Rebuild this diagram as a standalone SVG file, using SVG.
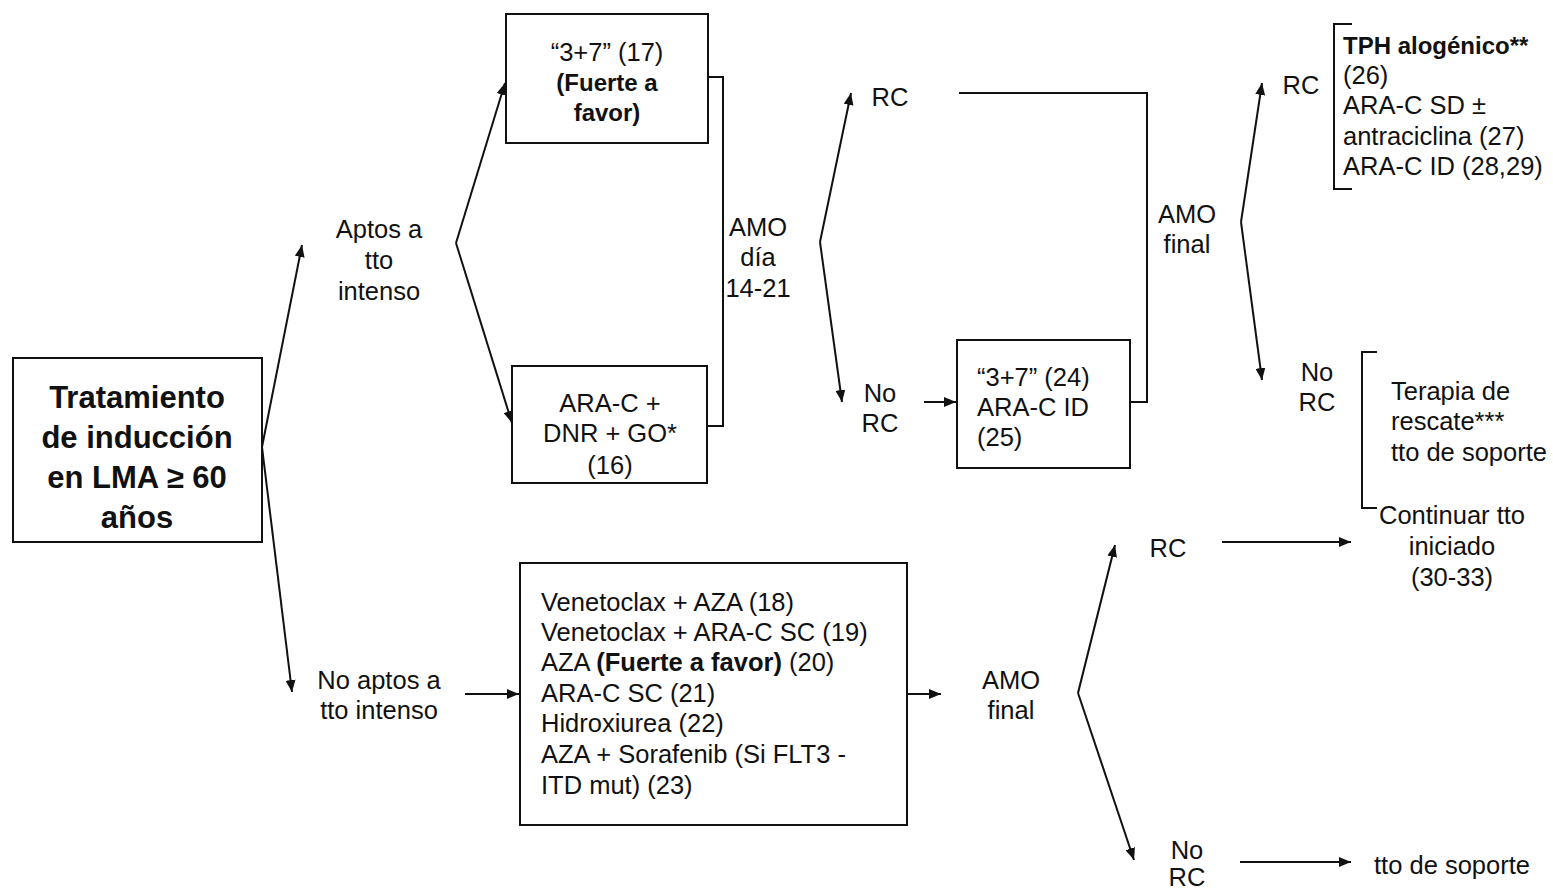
<svg xmlns="http://www.w3.org/2000/svg" width="1553" height="890" viewBox="0 0 1553 890">
<style>
text{font-family:"Liberation Sans",Arial,sans-serif;font-size:25.5px;fill:#111}
.c{text-anchor:middle}
.b{font-weight:bold;font-size:24px}
.bb{font-weight:bold;font-size:25.5px}
.t{font-weight:bold;font-size:31px;text-anchor:middle}
.box{fill:#fff;stroke:#111;stroke-width:2}
.ln{fill:none;stroke:#111;stroke-width:2}
.ar{fill:none;stroke:#111;stroke-width:2;marker-end:url(#ah)}
</style>
<defs>
<marker id="ah" markerUnits="userSpaceOnUse" markerWidth="12" markerHeight="10" refX="12" refY="5" orient="auto"><path d="M0,0 L12,5 L0,10 z" fill="#111"/></marker>
</defs>
<rect width="1553" height="890" fill="#fff"/>
<g id="connectors">
<path class="ar" d="M262,447 L302,245"/>
<path class="ar" d="M262,447 L292,692"/>
<path class="ar" d="M456,243 L505,83"/>
<path class="ar" d="M456,243 L512,423"/>
<path class="ar" d="M820,242 L851,93"/>
<path class="ar" d="M820,242 L842,402"/>
<path class="ar" d="M924,402 L956,402"/>
<path class="ar" d="M1241,222 L1262,83"/>
<path class="ar" d="M1241,222 L1262,380"/>
<path class="ar" d="M465,694 L519,694"/>
<path class="ar" d="M907,694 L941,694"/>
<path class="ar" d="M1078,693 L1115,545"/>
<path class="ar" d="M1078,693 L1134,860"/>
<path class="ar" d="M1222,542 L1351,542"/>
<path class="ar" d="M1240,862 L1351,862"/>
<path class="ln" d="M708,77 H723 V426 H707"/>
<path class="ln" d="M959,93 H1147 V402 H1130"/>
<path class="ln" d="M1352,24 H1334 V189 H1352"/>
<path class="ln" d="M1377,352 H1362 V508 H1377"/>
</g>
<g id="n-main">
<rect class="box" x="13" y="358" width="249" height="184"/>
<text class="t" x="137" y="408">Tratamiento</text>
<text class="t" x="137" y="448">de inducción</text>
<text class="t" x="137" y="488">en LMA ≥ 60</text>
<text class="t" x="137" y="528">años</text>
</g>
<g id="n-aptos">
<text class="c" x="379" y="238">Aptos a</text>
<text class="c" x="379" y="269">tto</text>
<text class="c" x="379" y="300">intenso</text>
</g>
<g id="n-37">
<rect class="box" x="506" y="14" width="202" height="129"/>
<text class="c" x="607" y="61">“3+7” (17)</text>
<text class="c b" x="607" y="91">(Fuerte a</text>
<text class="c b" x="607" y="121">favor)</text>
</g>
<g id="n-arac">
<rect class="box" x="512" y="366" width="195" height="117"/>
<text class="c" x="610" y="412">ARA-C +</text>
<text class="c" x="610" y="442">DNR + GO*</text>
<text class="c" x="610" y="474">(16)</text>
</g>
<g id="n-amo1">
<text class="c" x="758" y="236">AMO</text>
<text class="c" x="758" y="266">día</text>
<text class="c" x="758" y="297">14-21</text>
</g>
<g id="n-rc1"><text class="c" x="890" y="106">RC</text></g>
<g id="n-norc1">
<text class="c" x="880" y="402">No</text>
<text class="c" x="880" y="432">RC</text>
</g>
<g id="n-37b">
<rect class="box" x="957" y="340" width="173" height="128"/>
<text x="977" y="386">“3+7” (24)</text>
<text x="977" y="416">ARA-C ID</text>
<text x="977" y="446">(25)</text>
</g>
<g id="n-amo2">
<text class="c" x="1187" y="223">AMO</text>
<text class="c" x="1187" y="253">final</text>
</g>
<g id="n-rc2"><text class="c" x="1301" y="94">RC</text></g>
<g id="n-tph">
<text class="b" x="1343" y="54">TPH alogénico**</text>
<text x="1343" y="84">(26)</text>
<text x="1343" y="114">ARA-C SD ±</text>
<text x="1343" y="145">antraciclina (27)</text>
<text x="1343" y="175">ARA-C ID (28,29)</text>
</g>
<g id="n-norc2">
<text class="c" x="1317" y="381">No</text>
<text class="c" x="1317" y="411">RC</text>
</g>
<g id="n-rescate">
<text x="1391" y="400">Terapia de</text>
<text x="1391" y="430">rescate***</text>
<text x="1391" y="461">tto de soporte</text>
</g>
<g id="n-noaptos">
<text class="c" x="379" y="689">No aptos a</text>
<text class="c" x="379" y="719">tto intenso</text>
</g>
<g id="n-lista">
<rect class="box" x="520" y="563" width="387" height="262"/>
<text x="541" y="611">Venetoclax + AZA (18)</text>
<text x="541" y="641">Venetoclax + ARA-C SC (19)</text>
<text x="541" y="671">AZA <tspan class="bb">(Fuerte a favor)</tspan> (20)</text>
<text x="541" y="702">ARA-C SC (21)</text>
<text x="541" y="732">Hidroxiurea (22)</text>
<text x="541" y="763">AZA + Sorafenib (Si FLT3 -</text>
<text x="541" y="794">ITD mut) (23)</text>
</g>
<g id="n-amo3">
<text class="c" x="1011" y="689">AMO</text>
<text class="c" x="1011" y="719">final</text>
</g>
<g id="n-rc3"><text class="c" x="1168" y="557">RC</text></g>
<g id="n-continuar">
<text class="c" x="1452" y="524">Continuar tto</text>
<text class="c" x="1452" y="555">iniciado</text>
<text class="c" x="1452" y="586">(30-33)</text>
</g>
<g id="n-norc3">
<text class="c" x="1187" y="859">No</text>
<text class="c" x="1187" y="886">RC</text>
</g>
<g id="n-soporte"><text class="c" x="1452" y="874">tto de soporte</text></g>
</svg>
